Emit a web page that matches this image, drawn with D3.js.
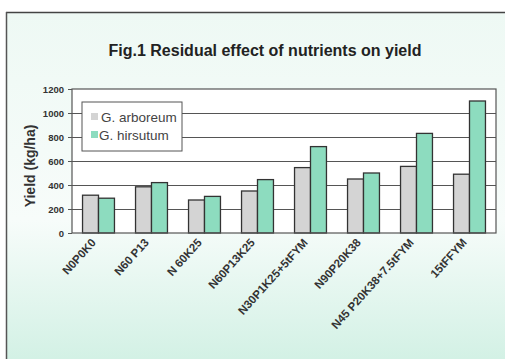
<!DOCTYPE html>
<html><head><meta charset="utf-8">
<script src="https://cdn.jsdelivr.net/npm/d3@7"></script>
<style>body{margin:0;background:#fff}svg{display:block}</style>
</head><body>
<svg id="c" width="505" height="359"></svg>
<script>
const categories = ["N0P0K0","N60 P13","N 60K25","N60P13K25","N30P1K25+5tFYM","N90P20K38","N45 P20K38+7.5tFYM","15tFFYM"];
const seriesNames = ["G. arboreum","G. hirsutum"];
const arboreum = [315,385,275,350,545,450,555,490];
const hirsutum = [290,420,305,445,720,500,830,1100];
const yTicks = [0,200,400,600,800,1000,1200];
const colors = ["#d4d4d4","#8ddcbf"];

const svg = d3.select("#c");
const defs = svg.append("defs");
const g = defs.append("linearGradient").attr("id","bg").attr("x1",0).attr("y1",0).attr("x2",0).attr("y2",1);
g.append("stop").attr("offset","0%").attr("stop-color","#eef9f4");
g.append("stop").attr("offset","60%").attr("stop-color","#f7fcfa");
g.append("stop").attr("offset","100%").attr("stop-color","#d3f1e5");

svg.append("rect").attr("x",6).attr("y",12).attr("width",499).attr("height",347).attr("fill","url(#bg)");
svg.append("line").attr("x1",6).attr("x2",505).attr("y1",12.5).attr("y2",12.5).attr("stroke","#444").attr("stroke-width",1.5);
svg.append("line").attr("x1",6.5).attr("x2",6.5).attr("y1",12).attr("y2",359).attr("stroke","#555").attr("stroke-width",1.5);

svg.append("text").attr("x",265).attr("y",56).attr("text-anchor","middle")
  .attr("font-family","Liberation Sans, Arial, sans-serif").attr("font-weight","bold").attr("font-size",16).attr("fill","#222")
  .text("Fig.1 Residual effect of nutrients on yield");

const m = {l:72,r:496,t:89,b:233};
const x0 = d3.scaleBand().domain(categories).range([m.l,m.r]).paddingInner(0).paddingOuter(0);
const x1 = d3.scaleBand().domain(seriesNames).range([0,x0.bandwidth()]).paddingInner(0).paddingOuter(0.66);
const y = d3.scaleLinear().domain([0,1200]).range([m.b,m.t]);

svg.append("rect").attr("x",m.l).attr("y",m.t).attr("width",m.r-m.l).attr("height",m.b-m.t).attr("fill","#fff");

svg.append("g").selectAll("line").data(yTicks.filter(d=>d>0&&d<1200)).join("line")
  .attr("x1",m.l).attr("x2",m.r).attr("y1",d=>Math.round(y(d))+0.5).attr("y2",d=>Math.round(y(d))+0.5)
  .attr("stroke","#555").attr("stroke-width",1);

const data = categories.map((c,i)=>({c, v:[arboreum[i],hirsutum[i]]}));
svg.append("g").selectAll("g").data(data).join("g")
  .attr("transform",d=>`translate(${x0(d.c)},0)`)
  .selectAll("rect").data(d=>d.v.map((v,j)=>({k:seriesNames[j],v,j}))).join("rect")
  .attr("x",d=>x1(d.k)).attr("width",x1.bandwidth()).attr("y",d=>y(d.v)).attr("height",d=>y(0)-y(d.v))
  .attr("fill",d=>colors[d.j]).attr("stroke","#333").attr("stroke-width",1.3);

svg.append("rect").attr("x",m.l).attr("y",m.t).attr("width",m.r-m.l).attr("height",m.b-m.t)
  .attr("fill","none").attr("stroke","#555").attr("stroke-width",1.2);

const yAxis = svg.append("g").attr("transform",`translate(${m.l},0)`)
  .call(d3.axisLeft(y).tickValues(yTicks).tickFormat(d3.format("d")).tickSize(4).tickPadding(4));
yAxis.select(".domain").remove();
yAxis.selectAll("line").attr("stroke","#555");
yAxis.selectAll("text").attr("font-family","Liberation Sans, Arial, sans-serif").attr("font-weight","bold").attr("font-size",9.5).attr("fill","#333");

const xAxis = svg.append("g").attr("transform",`translate(0,${m.b})`)
  .call(d3.axisBottom(x0).tickSize(0).tickPadding(0));
xAxis.select(".domain").remove();
xAxis.selectAll("text").attr("font-family","Liberation Sans Narrow, Arial Narrow, sans-serif").attr("font-weight","bold").attr("font-size",11.5).attr("fill","#333")
  .attr("text-anchor","end").attr("dy",null).attr("y",0)
  .attr("transform","translate(-2,10) rotate(-48)");

svg.append("text").attr("transform","translate(35,166) rotate(-90)").attr("text-anchor","middle")
  .attr("font-family","Liberation Sans, Arial, sans-serif").attr("font-weight","bold").attr("font-size",14).attr("fill","#333")
  .text("Yield (kg/ha)");

const lg = svg.append("g");
lg.append("rect").attr("x",82).attr("y",102).attr("width",100).attr("height",49).attr("fill","#fff").attr("stroke","#555").attr("stroke-width",1);
seriesNames.forEach((s,i)=>{
  lg.append("rect").attr("x",91).attr("y",113+i*18).attr("width",7).attr("height",7).attr("fill",colors[i]);
  lg.append("text").attr("x",i===0?101:99).attr("y",122+i*18).attr("font-family","Liberation Sans, Arial, sans-serif").attr("font-size",13.5).attr("fill","#444").text(s);
});
</script>
</body></html>
